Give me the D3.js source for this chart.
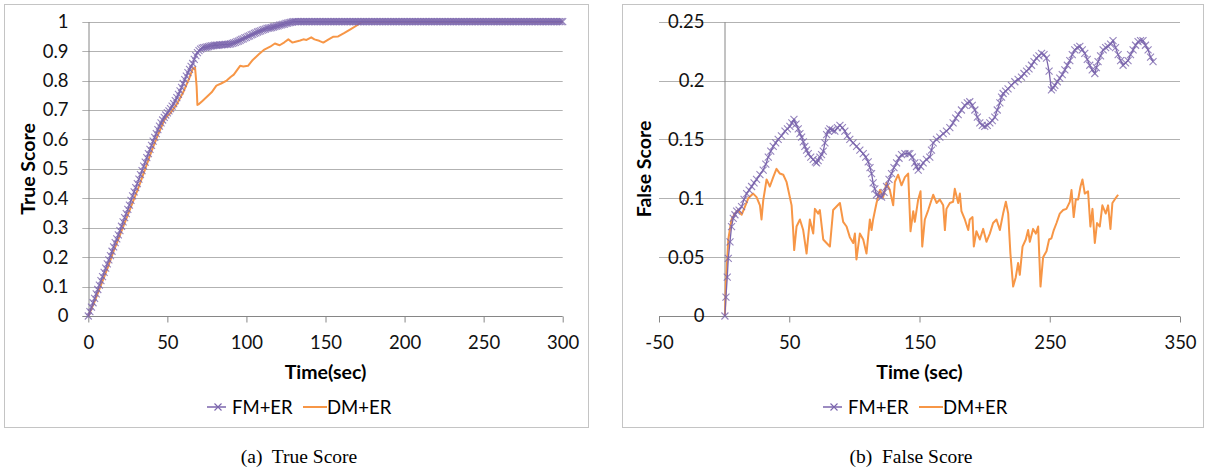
<!DOCTYPE html>
<html>
<head>
<meta charset="utf-8">
<script src="https://cdn.jsdelivr.net/npm/d3@7.9.0/dist/d3.min.js"></script>
<style>
  body { margin: 0; background: #fff; }
  svg { display: block; font-family: Lato, "Open Sans", sans-serif; }
</style>
</head>
<body>
<svg id="chart" width="1206" height="470"></svg>
<script>
const seriesNames = ['FM+ER', 'DM+ER'];
const colors = { fm: '#7b65ad', dm: '#f79646' };

// (a) True Score
const trueXTicks = [0, 50, 100, 150, 200, 250, 300];
const trueYTicks = [0, 0.1, 0.2, 0.3, 0.4, 0.5, 0.6, 0.7, 0.8, 0.9, 1];
const trueFmStep = 1; // seconds between FM+ER samples
const trueFm = [
  0, 0.015, 0.03, 0.045, 0.06, 0.075, 0.09, 0.105, 0.12, 0.134,
  0.148, 0.163, 0.177, 0.191, 0.205, 0.22, 0.235, 0.249, 0.262, 0.276,
  0.29, 0.305, 0.32, 0.334, 0.348, 0.362, 0.377, 0.393, 0.408, 0.422,
  0.436, 0.45, 0.465, 0.48, 0.494, 0.509, 0.523, 0.538, 0.552, 0.566,
  0.58, 0.594, 0.607, 0.62, 0.633, 0.645, 0.656, 0.666, 0.675, 0.683,
  0.69, 0.697, 0.705, 0.713, 0.722, 0.732, 0.742, 0.753, 0.765, 0.777,
  0.79, 0.803, 0.815, 0.827, 0.838, 0.848, 0.858, 0.872, 0.885, 0.895,
  0.902, 0.907, 0.91, 0.912, 0.913, 0.914, 0.915, 0.917, 0.918, 0.919,
  0.92, 0.92, 0.92, 0.921, 0.921, 0.922, 0.922, 0.923, 0.923, 0.924,
  0.925, 0.926, 0.928, 0.93, 0.932, 0.934, 0.937, 0.94, 0.942, 0.945,
  0.947, 0.95, 0.952, 0.955, 0.957, 0.96, 0.962, 0.965, 0.967, 0.969,
  0.971, 0.973, 0.975, 0.977, 0.978, 0.979, 0.98, 0.982, 0.983, 0.985,
  0.986, 0.988, 0.989, 0.991, 0.992, 0.994, 0.995, 0.997, 0.998, 0.999,
  1, 1, 1, 1, 1, 1, 1, 1, 1, 1,
  1, 1, 1, 1, 1, 1, 1, 1, 1, 1,
  1, 1, 1, 1, 1, 1, 1, 1, 1, 1,
  1, 1, 1, 1, 1, 1, 1, 1, 1, 1,
  1, 1, 1, 1, 1, 1, 1, 1, 1, 1,
  1, 1, 1, 1, 1, 1, 1, 1, 1, 1,
  1, 1, 1, 1, 1, 1, 1, 1, 1, 1,
  1, 1, 1, 1, 1, 1, 1, 1, 1, 1,
  1, 1, 1, 1, 1, 1, 1, 1, 1, 1,
  1, 1, 1, 1, 1, 1, 1, 1, 1, 1,
  1, 1, 1, 1, 1, 1, 1, 1, 1, 1,
  1, 1, 1, 1, 1, 1, 1, 1, 1, 1,
  1, 1, 1, 1, 1, 1, 1, 1, 1, 1,
  1, 1, 1, 1, 1, 1, 1, 1, 1, 1,
  1, 1, 1, 1, 1, 1, 1, 1, 1, 1,
  1, 1, 1, 1, 1, 1, 1, 1, 1, 1,
  1, 1, 1, 1, 1, 1, 1, 1, 1, 1,
  1
];
const trueDm = [
  [0, 0], [4, 0.05], [8, 0.105], [12, 0.16], [16, 0.22], [20, 0.275], [24, 0.33],
  [28, 0.385], [32, 0.44], [36, 0.5], [40, 0.56], [44, 0.615], [48, 0.665], [50, 0.68],
  [52, 0.69], [56, 0.72], [60, 0.76], [64, 0.81], [66, 0.84], [67.5, 0.845], [68.5, 0.78],
  [69, 0.717], [70, 0.72], [72, 0.73], [75, 0.745], [78, 0.76], [81, 0.783], [84, 0.79],
  [87.5, 0.8], [90, 0.812], [92, 0.82], [96, 0.85], [98, 0.848], [101, 0.85], [104, 0.87],
  [108, 0.89], [111, 0.904], [115, 0.915], [118, 0.926], [121, 0.92], [124, 0.93],
  [126.5, 0.94], [129, 0.929], [131, 0.932], [134, 0.936], [136, 0.94], [138, 0.938],
  [141, 0.947], [143, 0.94], [146, 0.935], [148.6, 0.929], [152, 0.94], [155, 0.949],
  [158, 0.95], [162, 0.962], [166, 0.975], [170, 0.988], [173, 1], [300, 1]
];

// (b) False Score
const falseXTicks = [-50, 50, 150, 250, 350];
const falseYTicks = [0, 0.05, 0.1, 0.15, 0.2, 0.25];
const falseFm = [
  [0.6, 0], [1.4, 0.016], [2.4, 0.033], [3.2, 0.049], [4.5, 0.063], [5.7, 0.076], [7, 0.083],
  [8.3, 0.086], [9.6, 0.089], [11.5, 0.09], [13.4, 0.093], [15.3, 0.099], [17.3, 0.104],
  [19.2, 0.107], [21.1, 0.11], [23, 0.113], [24.9, 0.116], [27.5, 0.12], [30, 0.124],
  [32, 0.129], [33.9, 0.135], [35.8, 0.14], [37.7, 0.144], [39.6, 0.147], [41.5, 0.15],
  [44, 0.153], [46.7, 0.157], [48.6, 0.159], [50.5, 0.161], [52, 0.164], [53.6, 0.167],
  [55.2, 0.163], [56.9, 0.159], [58.2, 0.155], [59.5, 0.152], [60.8, 0.148], [62, 0.144],
  [63.3, 0.141], [64.6, 0.138], [66.5, 0.135], [68.4, 0.133], [70, 0.131], [71, 0.13],
  [72.2, 0.132], [73.5, 0.135], [74.8, 0.137], [76.1, 0.14], [77.4, 0.147], [78.7, 0.154],
  [80, 0.157], [81.2, 0.159], [83, 0.158], [85, 0.157], [87, 0.16], [88.9, 0.162],
  [90.8, 0.16], [92.7, 0.157], [94.6, 0.153], [96.5, 0.15], [99, 0.147], [101.7, 0.144],
  [104.2, 0.141], [106.8, 0.138], [108.7, 0.135], [110.6, 0.131], [112, 0.126],
  [113.2, 0.121], [114.4, 0.113], [115.7, 0.108], [117, 0.103], [119, 0.102],
  [120.9, 0.101], [122.8, 0.105], [124.7, 0.11], [126.6, 0.116], [128.5, 0.121],
  [130.4, 0.126], [132.4, 0.13], [134.3, 0.134], [136.2, 0.137], [138.8, 0.138],
  [141.3, 0.138], [142.6, 0.138], [144.5, 0.135], [146.4, 0.13], [147.7, 0.127],
  [149, 0.124], [150.9, 0.127], [152.8, 0.13], [155.3, 0.133], [157.9, 0.135],
  [159.2, 0.141], [160.5, 0.147], [163, 0.15], [165.6, 0.152], [168.2, 0.155],
  [170.7, 0.157], [173.3, 0.16], [175.8, 0.164], [177.8, 0.168], [179.7, 0.171],
  [182.2, 0.175], [184.8, 0.179], [186.7, 0.181], [188.6, 0.182], [190.5, 0.179],
  [192.5, 0.175], [194.4, 0.169], [196.3, 0.164], [198.2, 0.162], [200.1, 0.161],
  [202, 0.162], [204, 0.164], [205.9, 0.166], [207.8, 0.169], [209.7, 0.175],
  [211.7, 0.181], [213, 0.186], [214.2, 0.189], [216.1, 0.191], [218, 0.193],
  [220.6, 0.196], [223.2, 0.199], [225.7, 0.201], [228.3, 0.203], [230.2, 0.206],
  [232.2, 0.208], [234.1, 0.21], [236, 0.213], [237.9, 0.216], [239.8, 0.219],
  [241.7, 0.221], [243.7, 0.223], [245.6, 0.222], [247.5, 0.219], [249.5, 0.208],
  [251.3, 0.192], [252.6, 0.194], [253.9, 0.196], [255.8, 0.199], [257.7, 0.202],
  [259.6, 0.205], [261.6, 0.209], [263.5, 0.213], [265.4, 0.217], [267.3, 0.222],
  [269.2, 0.226], [271.1, 0.228], [273.1, 0.229], [275, 0.226], [276.9, 0.223],
  [278.8, 0.218], [280.7, 0.213], [282.6, 0.209], [284.6, 0.206], [285.8, 0.211],
  [287.1, 0.216], [289, 0.221], [291, 0.226], [292.9, 0.228], [294.8, 0.229],
  [296.7, 0.231], [298.6, 0.234], [300.5, 0.228], [302.5, 0.222], [304.4, 0.217],
  [306.3, 0.213], [308.2, 0.215], [310.1, 0.217], [312, 0.222], [314, 0.226],
  [315.9, 0.23], [317.8, 0.233], [319.7, 0.234], [321.6, 0.234], [323.5, 0.23],
  [325.5, 0.226], [327.4, 0.22], [329.3, 0.216]
];
const falseDm = [
  [0.6, 0], [1.4, 0.028], [3.2, 0.065], [5.7, 0.082], [8.3, 0.087], [10.8, 0.09],
  [13.4, 0.086], [16, 0.093], [18.5, 0.1], [22.3, 0.104], [24.9, 0.101], [27.5, 0.094],
  [28.7, 0.082], [30, 0.098], [32.6, 0.116], [35.1, 0.11], [37.7, 0.118], [40.2, 0.125],
  [42.8, 0.121], [45.4, 0.12], [47.9, 0.114], [51.8, 0.094], [53, 0.073], [53.8, 0.056],
  [55.6, 0.076], [58.2, 0.082], [60.7, 0.073], [63.3, 0.053], [65.8, 0.082], [68.4, 0.07],
  [69.7, 0.091], [72.2, 0.087], [73.5, 0.09], [76.1, 0.065], [78.6, 0.062], [81.2, 0.059],
  [83.7, 0.09], [86.3, 0.093], [88.9, 0.096], [91.4, 0.08], [94, 0.076], [96.5, 0.067],
  [99.1, 0.062], [100.4, 0.07], [101.6, 0.048], [104.2, 0.07], [106.8, 0.065],
  [109.3, 0.053], [111.9, 0.082], [113.2, 0.073], [114.4, 0.082], [117, 0.096],
  [119.6, 0.107], [122.1, 0.101], [124.7, 0.113], [127.2, 0.107], [129.8, 0.094],
  [131.1, 0.114], [133.6, 0.12], [136.2, 0.111], [138.8, 0.118], [141.3, 0.121],
  [143.1, 0.072], [145.2, 0.089], [146.4, 0.08], [149, 0.099], [150.8, 0.106],
  [152.1, 0.059], [154.1, 0.082], [156.7, 0.09], [160.5, 0.103], [163.1, 0.096],
  [165.6, 0.099], [168.2, 0.094], [169.5, 0.073], [170.7, 0.091], [173.3, 0.096],
  [175.8, 0.097], [177.1, 0.108], [179.7, 0.096], [181, 0.104], [182.2, 0.089],
  [184.8, 0.082], [187.4, 0.073], [188.6, 0.082], [190.7, 0.084], [191.7, 0.059],
  [193.7, 0.072], [196.3, 0.065], [198.9, 0.074], [201.4, 0.063], [204, 0.07],
  [206.5, 0.079], [209.1, 0.082], [211.7, 0.073], [214.2, 0.087], [216.3, 0.097],
  [218.1, 0.087], [219.8, 0.053], [221.9, 0.025], [223.9, 0.033], [225.7, 0.045],
  [227, 0.035], [229.1, 0.059], [231.6, 0.065], [233.4, 0.073], [234.7, 0.063],
  [237.2, 0.074], [239.3, 0.07], [241.1, 0.076], [242.9, 0.025], [244.9, 0.05],
  [247.5, 0.055], [249.5, 0.065], [251.3, 0.066], [253.1, 0.073], [255.2, 0.079],
  [257.7, 0.087], [260.3, 0.09], [262.8, 0.091], [265.4, 0.097], [266.7, 0.107],
  [268.4, 0.084], [270, 0.099], [271.8, 0.099], [273.6, 0.11], [275.1, 0.116],
  [276.9, 0.104], [279.4, 0.106], [281.2, 0.076], [282.8, 0.091], [284.6, 0.062],
  [286.3, 0.079], [288.4, 0.076], [290.4, 0.094], [293, 0.087], [294.8, 0.094],
  [296.6, 0.074], [298.1, 0.096], [299.9, 0.099], [302.5, 0.103]
];

const svg = d3.select('#chart');
const crossPath = 'M-3.5,-3.5L3.5,3.5M-3.5,3.5L3.5,-3.5';

function drawPanel(p) {
  const g = svg.append('g');

  // chart area border
  g.append('rect')
    .attr('x', p.box[0] + 0.5).attr('y', p.box[1] + 0.5)
    .attr('width', p.box[2]).attr('height', p.box[3])
    .attr('fill', '#fff').attr('stroke', '#c4c4c4');

  const x = d3.scaleLinear().domain(p.xDomain).range(p.xRange);
  const y = d3.scaleLinear().domain(p.yDomain).range([316, 21.7]);

  // gridlines
  g.append('g').selectAll('line')
    .data(p.yTicks.slice(1))
    .join('line')
    .attr('x1', p.xRange[0] - p.gridOut).attr('x2', p.xRange[1])
    .attr('y1', d => Math.round(y(d)) + 0.5).attr('y2', d => Math.round(y(d)) + 0.5)
    .attr('stroke', '#b2b2b2');

  // x axis
  const xAxis = g.append('g')
    .attr('transform', `translate(0,${Math.round(y(0)) + 0.5})`)
    .call(d3.axisBottom(x).tickValues(p.xTicks).tickSize(6).tickSizeOuter(0)
      .tickPadding(13).tickFormat(d => String(d)));
  xAxis.select('.domain').attr('stroke', '#868686').attr('d', `M${p.xRange[0] - p.gridOut},0H${p.xRange[1]}`);
  xAxis.selectAll('.tick line').attr('stroke', '#868686');
  xAxis.selectAll('text').attr('font-size', 18.5).attr('fill', '#111').attr('font-family', 'Lato');

  // y axis
  const yAxis = g.append('g')
    .attr('transform', `translate(${Math.round(x(p.yAxisAt)) + 0.5},0)`)
    .call(d3.axisLeft(y).tickValues(p.yTicks).tickSize(0).tickPadding(20).tickFormat(d3.format('~g')));
  yAxis.select('.domain').attr('stroke', '#868686');
  yAxis.selectAll('text').attr('font-size', 18.5).attr('fill', '#111').attr('font-family', 'Lato');

  // axis titles
  g.append('text')
    .attr('x', (p.xRange[0] + p.xRange[1]) / 2).attr('y', 379)
    .attr('text-anchor', 'middle').attr('font-weight', 'bold').attr('font-size', 19.5)
    .text(p.xTitle);
  g.append('text')
    .attr('transform', `translate(${p.yTitleX},169) rotate(-90)`)
    .attr('text-anchor', 'middle').attr('font-weight', 'bold').attr('font-size', 19.5)
    .text(p.yTitle);

  // DM+ER line
  const line = d3.line().x(d => x(d[0])).y(d => y(d[1]));
  g.append('path')
    .datum(p.dm)
    .attr('d', line)
    .attr('fill', 'none').attr('stroke', colors.dm).attr('stroke-width', 2)
    .attr('stroke-linejoin', 'round');

  // FM+ER line with cross markers
  g.append('path')
    .datum(p.fm)
    .attr('d', line)
    .attr('fill', 'none').attr('stroke', colors.fm).attr('stroke-width', 1.3);
  g.append('g').selectAll('path')
    .data(p.fm)
    .join('path')
    .attr('transform', d => `translate(${x(d[0])},${y(d[1])})`)
    .attr('d', crossPath)
    .attr('fill', 'none').attr('stroke', colors.fm).attr('stroke-width', 1.1)
    .attr('stroke-opacity', 0.8);

  // legend
  const lg = g.append('g').attr('transform', `translate(${p.legendX},407)`);
  lg.append('line').attr('x1', 0).attr('x2', 19).attr('y1', 0).attr('y2', 0)
    .attr('stroke', colors.fm).attr('stroke-width', 1.5);
  lg.append('path').attr('transform', 'translate(11,0)').attr('d', crossPath)
    .attr('fill', 'none').attr('stroke', colors.fm).attr('stroke-width', 1.1);
  lg.append('text').attr('x', 25).attr('y', 6.5).attr('font-size', 18.5).text(seriesNames[0]);
  lg.append('line').attr('x1', 96).attr('x2', 120).attr('y1', 0).attr('y2', 0)
    .attr('stroke', colors.dm).attr('stroke-width', 2);
  lg.append('text').attr('x', 120).attr('y', 6.5).attr('font-size', 18.5).text(seriesNames[1]);

  // caption
  svg.append('text')
    .attr('x', p.captionX).attr('y', 463)
    .attr('text-anchor', 'middle')
    .attr('font-family', '"Liberation Serif", "Times New Roman", serif')
    .attr('font-size', 19.5)
    .style('white-space', 'pre')
    .text(p.caption);
}

drawPanel({
  box: [4, 4, 584, 423],
  xDomain: [0, 300], xRange: [88.3, 562.7], yDomain: [0, 1],
  xTicks: trueXTicks, yTicks: trueYTicks, yAxisAt: 0, gridOut: 6,
  xTitle: 'Time(sec)', yTitle: 'True Score', yTitleX: 35,
  fm: trueFm.map((v, i) => [i * trueFmStep, v]),
  dm: trueDm,
  legendX: 207, caption: '(a)  True Score', captionX: 299
});

drawPanel({
  box: [622, 4, 581, 423],
  xDomain: [-50, 350], xRange: [659, 1180], yDomain: [0, 0.25],
  xTicks: falseXTicks, yTicks: falseYTicks, yAxisAt: 0, gridOut: 0,
  xTitle: 'Time (sec)', yTitle: 'False Score', yTitleX: 651,
  fm: falseFm,
  dm: falseDm,
  legendX: 823, caption: '(b)  False Score', captionX: 911
});
</script>
</body>
</html>
